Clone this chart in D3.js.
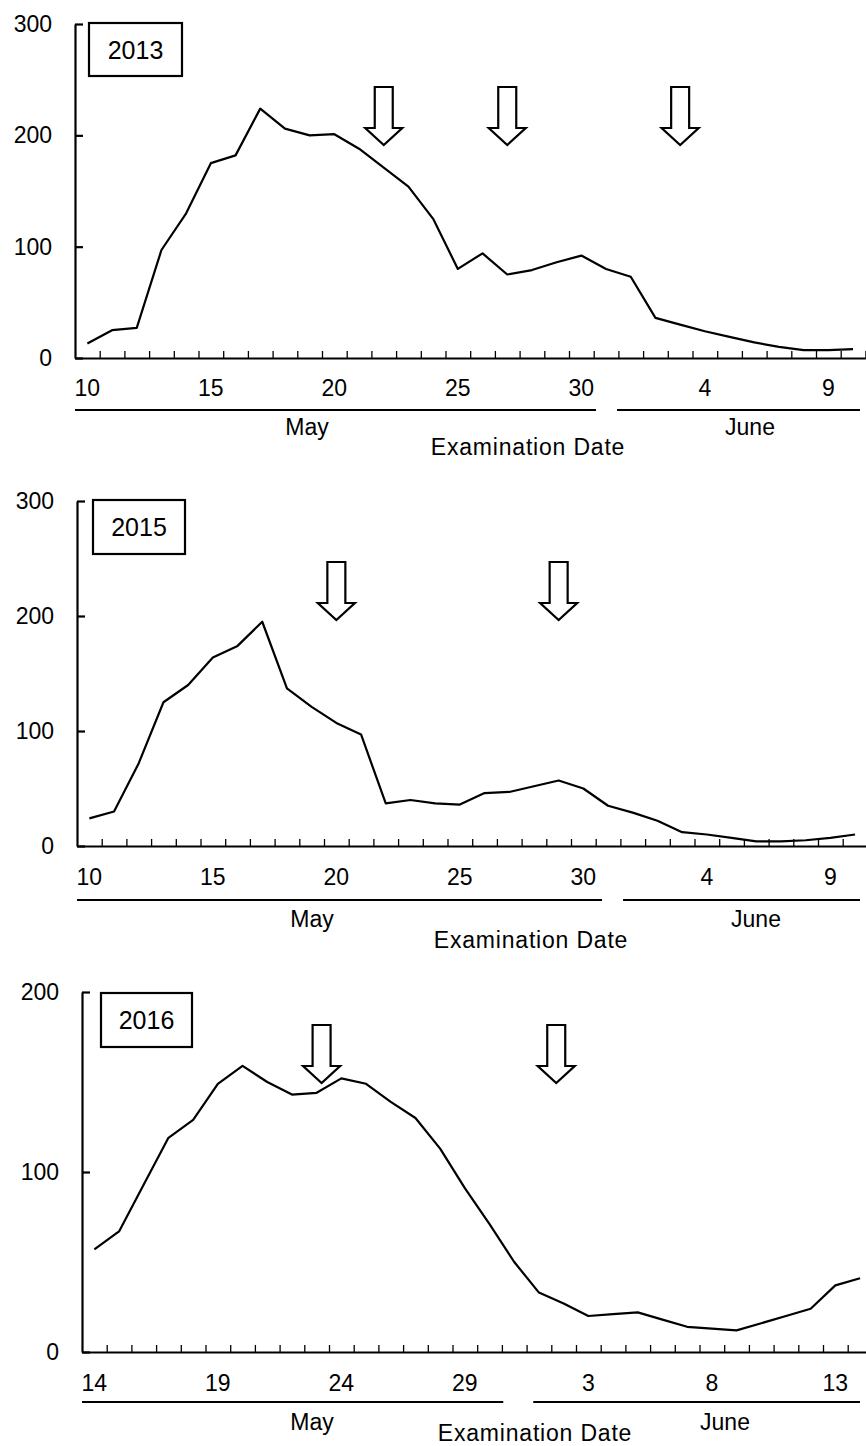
<!DOCTYPE html>
<html>
<head>
<meta charset="utf-8">
<script src="https://cdn.jsdelivr.net/npm/d3@7/dist/d3.min.js"></script>
<style>
  body { margin: 0; background: #fff; }
  svg text { font-family: "Liberation Sans", Arial, sans-serif; fill: #000; }
</style>
</head>
<body>
<div id="chart"></div>
<script>
// Examination dates (month/day) for each season
const dates2013 = ['5/10','5/11','5/12','5/13','5/14','5/15','5/16','5/17','5/18','5/19','5/20',
  '5/21','5/22','5/23','5/24','5/25','5/26','5/27','5/28','5/29','5/30','5/31',
  '6/1','6/2','6/3','6/4','6/5','6/6','6/7','6/8','6/9','6/10'];
const dates2015 = dates2013;
const dates2016 = ['5/14','5/15','5/16','5/17','5/18','5/19','5/20','5/21','5/22','5/23','5/24',
  '5/25','5/26','5/27','5/28','5/29','5/30','5/31',
  '6/1','6/2','6/3','6/4','6/5','6/6','6/7','6/8','6/9','6/10','6/11','6/12','6/13','6/14'];

// Counts
const counts2013 = [13,25,27,97,130,175,182,224,206,200,201,188,171,154,125,80,94,75,79,86,92,80,
  73,36,30,24,19,14,10,7,7,8];
const counts2015 = [24,30,72,125,140,164,174,195,137,121,107,97,37,40,37,36,46,47,52,57,50,35,
  29,22,12,10,7,4,4,5,7,10];
const counts2016 = [57,67,93,119,129,149,159,150,143,144,152,149,139,130,113,91,71,50,
  33,27,20,21,22,18,14,13,12,16,20,24,37,41];

// Labelled dates on the x axis
const xLabels2013 = ['5/10','5/15','5/20','5/25','5/30','6/4','6/9'];
const xLabels2015 = xLabels2013;
const xLabels2016 = ['5/14','5/19','5/24','5/29','6/3','6/8','6/13'];

// y ticks
const yTicks2013 = [0, 100, 200, 300];
const yTicks2015 = [0, 100, 200, 300];
const yTicks2016 = [0, 100, 200];

// Arrow positions, in days from the first examination date
const arrows2013 = [12, 17, 24];
const arrows2015 = [10, 19];
const arrows2016 = [9.2, 18.7];

const width = 866, height = 1446;
const step = 24.7;

// Layout of each panel (pixels)
const panels = [
  { year: '2013', dates: dates2013, values: counts2013, xLabels: xLabels2013, yTicks: yTicks2013,
    arrows: arrows2013, left: 75, top: 24, bottom: 358, box: [89, 23, 93, 53],
    arrowTop: 87, gapL: 10, gapR: 11, lab: 38, ul: 52, mon: 77, exam: 97,
    mayX: 307, juneX: 750, examX: 528 },
  { year: '2015', dates: dates2015, values: counts2015, xLabels: xLabels2015, yTicks: yTicks2015,
    arrows: arrows2015, left: 77, top: 501, bottom: 846, box: [93, 500, 92, 54],
    arrowTop: 562, gapL: 6, gapR: 15, lab: 39, ul: 54, mon: 81, exam: 102,
    mayX: 312, juneX: 756, examX: 531 },
  { year: '2016', dates: dates2016, values: counts2016, xLabels: xLabels2016, yTicks: yTicks2016,
    arrows: arrows2016, left: 82, top: 992, bottom: 1352, box: [101, 993, 91, 54],
    arrowTop: 1025, gapL: 11, gapR: 19, lab: 39, ul: 50, mon: 78, exam: 89,
    mayX: 312, juneX: 725, examX: 535 }
];

const svg = d3.select('#chart').append('svg')
  .attr('width', width)
  .attr('height', height)
  .attr('viewBox', [0, 0, width, height]);

panels.forEach(p => {
  const g = svg.append('g');
  const n = p.dates.length;
  const right = p.left + n * step;

  // x: day index -> pixel (centre of each day's slot)
  const x = d3.scaleLinear()
    .domain([-0.5, n - 0.5])
    .range([p.left, right]);
  const y = d3.scaleLinear()
    .domain([0, d3.max(p.yTicks)])
    .range([p.bottom, p.top]);

  // x axis: ticks between days, pointing up
  const xAxis = d3.axisBottom(x)
    .tickValues(d3.range(n).map(i => i + 0.5))
    .tickSize(-7)
    .tickSizeOuter(0)
    .tickFormat('');
  const xg = g.append('g')
    .attr('transform', `translate(0,${p.bottom})`)
    .call(xAxis);
  xg.select('.domain').attr('stroke-width', 2);
  xg.selectAll('.tick line').attr('stroke-width', 1.3);

  // x labels
  g.append('g')
    .selectAll('text')
    .data(p.xLabels)
    .join('text')
    .attr('x', d => x(p.dates.indexOf(d)))
    .attr('y', p.bottom + p.lab)
    .attr('text-anchor', 'middle')
    .attr('font-size', 23)
    .text(d => d.split('/')[1]);

  // y axis: ticks pointing right
  const yAxis = d3.axisLeft(y)
    .tickValues(p.yTicks)
    .tickSize(-8)
    .tickSizeOuter(0)
    .tickPadding(23);
  const yg = g.append('g')
    .attr('transform', `translate(${p.left},0)`)
    .call(yAxis);
  yg.select('.domain').attr('stroke-width', 2.2);
  yg.selectAll('.tick line').attr('stroke-width', 2.2);
  yg.selectAll('.tick text')
    .attr('font-size', 23)
    .attr('font-family', '"Liberation Sans", Arial, sans-serif')
    .attr('fill', '#000');
  yg.attr('font-size', null).attr('font-family', null);

  // month underlines and names
  const lastMay = p.dates.indexOf('5/31');
  const ulY = p.bottom + p.ul;
  g.append('line')
    .attr('x1', p.left).attr('x2', x(lastMay) - p.gapL)
    .attr('y1', ulY).attr('y2', ulY)
    .attr('stroke', '#000').attr('stroke-width', 2.2);
  g.append('line')
    .attr('x1', x(lastMay) + p.gapR).attr('x2', Math.min(right, width - 6))
    .attr('y1', ulY).attr('y2', ulY)
    .attr('stroke', '#000').attr('stroke-width', 2.2);

  g.append('text')
    .attr('x', p.mayX).attr('y', p.bottom + p.mon)
    .attr('text-anchor', 'middle').attr('font-size', 23)
    .text('May');
  g.append('text')
    .attr('x', p.juneX).attr('y', p.bottom + p.mon)
    .attr('text-anchor', 'middle').attr('font-size', 23)
    .text('June');
  g.append('text')
    .attr('x', p.examX).attr('y', p.bottom + p.exam)
    .attr('text-anchor', 'middle').attr('font-size', 23)
    .attr('letter-spacing', 0.8)
    .text('Examination Date');

  // the data line
  const line = d3.line()
    .x((d, i) => x(i))
    .y(d => y(d));
  g.append('path')
    .datum(p.values)
    .attr('fill', 'none')
    .attr('stroke', '#000')
    .attr('stroke-width', 2.2)
    .attr('stroke-linejoin', 'round')
    .attr('d', line);

  // year box
  g.append('rect')
    .attr('x', p.box[0]).attr('y', p.box[1])
    .attr('width', p.box[2]).attr('height', p.box[3])
    .attr('fill', '#fff').attr('stroke', '#000').attr('stroke-width', 2.2);
  g.append('text')
    .attr('x', p.box[0] + p.box[2] / 2)
    .attr('y', p.box[1] + p.box[3] / 2 + 9)
    .attr('text-anchor', 'middle')
    .attr('font-size', 25)
    .text(p.year);

  // open down arrows marking the events
  const shaft = 9, head = 18.5, headAt = 41, tip = 58;
  g.append('g')
    .selectAll('path')
    .data(p.arrows)
    .join('path')
    .attr('fill', '#fff')
    .attr('stroke', '#000')
    .attr('stroke-width', 2.2)
    .attr('stroke-linejoin', 'miter')
    .attr('d', d => {
      const cx = x(d), t = p.arrowTop;
      return `M${cx - shaft},${t}H${cx + shaft}V${t + headAt}H${cx + head}` +
        `L${cx},${t + tip}L${cx - head},${t + headAt}H${cx - shaft}Z`;
    });
});
</script>
</body>
</html>
